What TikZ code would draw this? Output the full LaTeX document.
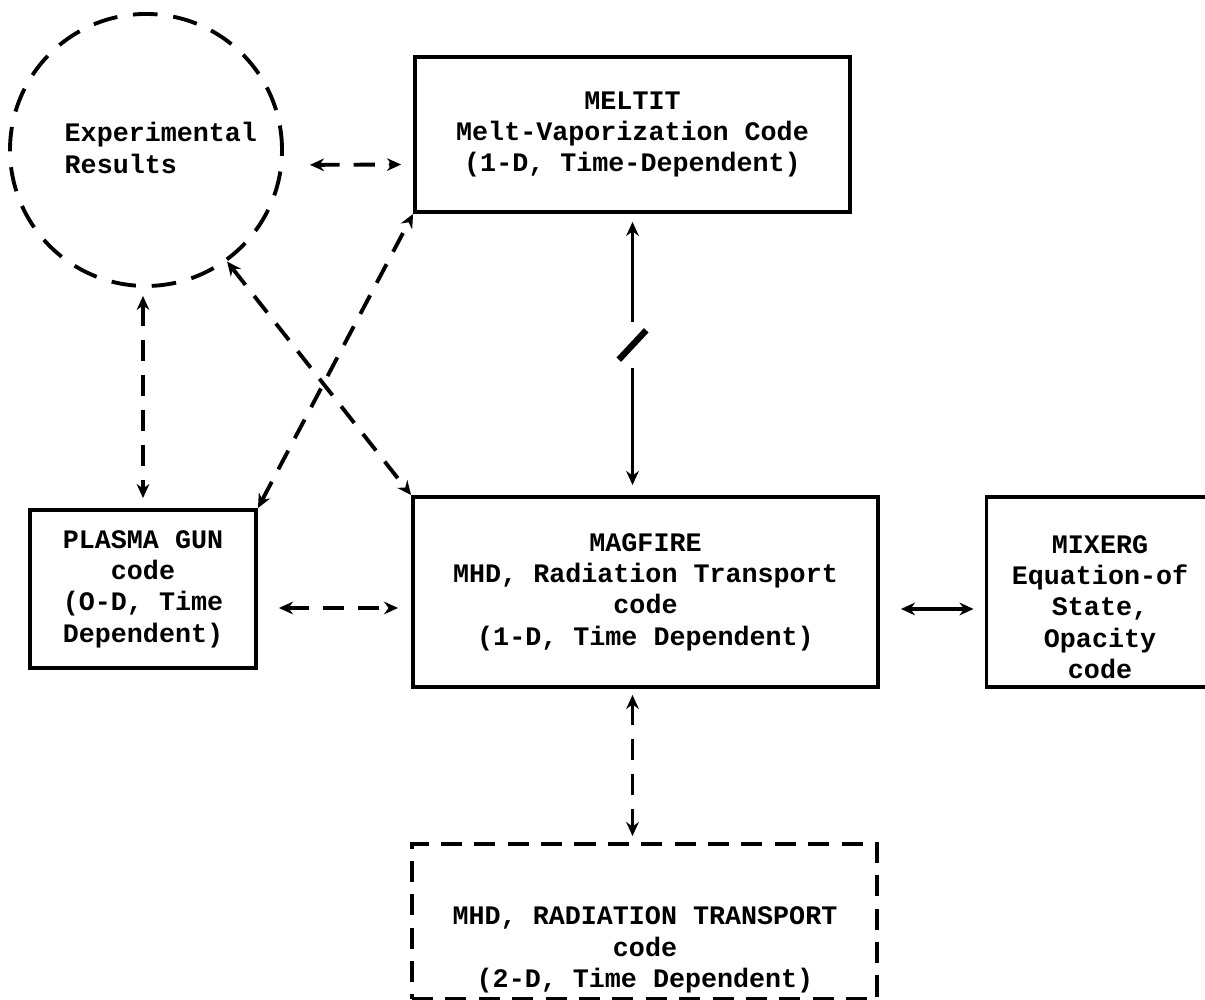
\documentclass[tikz,border=0pt]{standalone}
\usepackage{fontspec}
\setmonofont{Liberation Mono}
\usetikzlibrary{arrows.meta}

\begin{document}
\begin{tikzpicture}[
  font=\ttfamily\bfseries\fontsize{7.6}{8.9}\selectfont,
  >={Stealth[length=4pt,width=3.6pt]},
  box/.style={draw, line width=1.1pt, align=center, inner sep=0pt},
  dashbox/.style={box, dash pattern=on 6pt off 3.5pt},
  link/.style={line width=1.1pt, <->},
  dashlink/.style={link, dash pattern=on 6pt off 4pt},
]
  \useasboundingbox (0,0) rectangle (12.05,10);
  % Experimental results
  \node[draw, circle, line width=1.1pt, dash pattern=on 7pt off 4.5pt,
        minimum size=2.72cm, inner sep=0pt] (exp) at (1.46,8.50) {};
  \node[align=left, anchor=west, inner sep=0pt] (exptext) at (0.64,8.52) {Experimental\\Results};
  % Codes
  \node[box, minimum width=4.35cm, minimum height=1.55cm] (meltit) at (6.325,8.655)
    {MELTIT\\Melt-Vaporization Code\\(1-D, Time-Dependent)};
  \node[box, minimum width=4.65cm, minimum height=1.90cm] (magfire) at (6.455,4.08)
    {MAGFIRE\\MHD, Radiation Transport\\code\\(1-D, Time Dependent)};
  \node[box, minimum width=2.26cm, minimum height=1.58cm] (plasma) at (1.43,4.11)
    {PLASMA GUN\\code\\(O-D, Time\\Dependent)};
  \node[box, minimum width=2.25cm, minimum height=1.90cm] (mixerg) at (10.99,4.08) {};
  \node[align=center, inner sep=0pt] (mixergtext) at (11.0,3.93)
    {MIXERG\\Equation-of\\State,\\Opacity\\code};
  % 2-D code
  \node[dashbox, minimum width=4.65cm, minimum height=1.55cm] (mhd2d) at (6.445,0.785) {};
  \node[align=center, inner sep=0pt] (mhd2dtext) at (6.45,0.50)
    {MHD, RADIATION TRANSPORT\\code\\(2-D, Time Dependent)};
  % Links
  \draw[dashlink, shorten <=2.6mm, shorten >=1.2mm] ([yshift=-1.5mm]exp.east) -- ([yshift=-3mm]meltit.west);
  \draw[link, shorten <=0.8mm, shorten >=1mm] (meltit.south) -- (meltit.south |- magfire.north);
  \node[fill=white, inner sep=0pt, minimum width=2.6mm, minimum height=4.6mm] (brk) at (6.325,6.55) {};
  \draw[line width=1.8pt] ([yshift=0.9mm]brk.south west) -- ([yshift=-0.9mm]brk.north east);
  \draw[dashlink, shorten <=0.8mm, shorten >=1mm] (plasma.north |- exp.south) -- (plasma.north);
  \draw[dashlink] (exp.-54) -- (magfire.north west);
  \draw[dashlink] (plasma.north east) -- (meltit.south west);
  \coordinate (p1) at ([yshift=-1.9mm]plasma.east);
  \draw[dashlink, shorten <=2.1mm, shorten >=1.3mm] (p1) -- (p1 -| magfire.west);
  \coordinate (m1) at ([yshift=-1.7mm]magfire.east);
  \draw[link, shorten <=2.1mm, shorten >=1.1mm] (m1) -- (m1 -| mixerg.west);
  \draw[dashlink, shorten <=0.6mm, shorten >=0.6mm] (meltit.south |- magfire.south) -- (meltit.south |- mhd2d.north);
\end{tikzpicture}
\end{document}
